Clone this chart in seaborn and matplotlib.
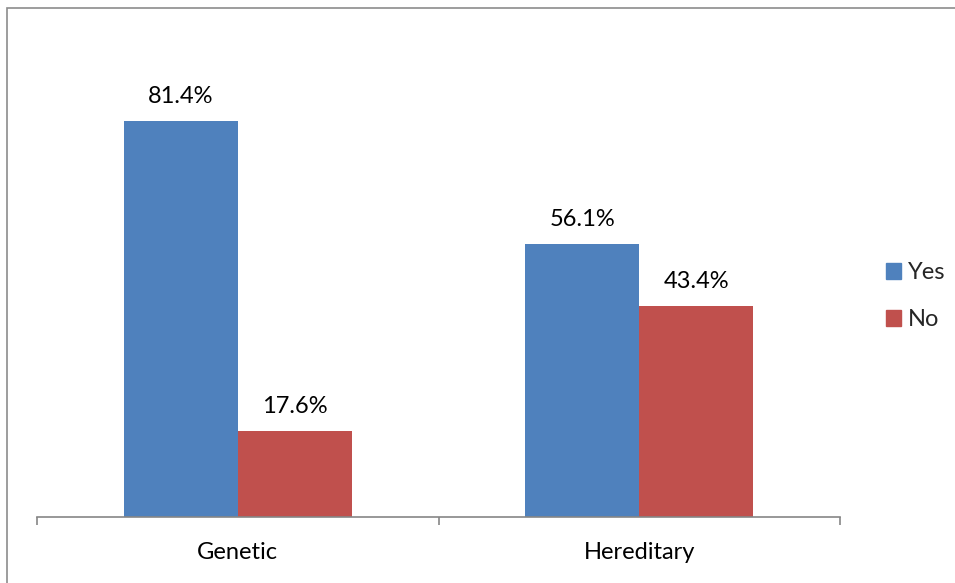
import matplotlib
matplotlib.use("Agg")
import matplotlib.pyplot as plt
import matplotlib.patches as mpatches
import seaborn as sns
import pandas as pd

categories = ["Genetic", "Hereditary"]
series_names = ["Yes", "No"]
yes_values = [81.4, 56.1]
no_values = [17.6, 43.4]

colors = ["#4F81BD", "#C0504D"]

sns.set_theme(style="white")
plt.rcParams["font.family"] = ["Lato", "DejaVu Sans"]

df = pd.DataFrame({
    "category": categories * 2,
    "answer": [series_names[0]] * len(categories) + [series_names[1]] * len(categories),
    "value": yes_values + no_values,
})

fig = plt.figure(figsize=(9.55, 5.83), dpi=100)
ax = fig.add_axes([37 / 955, 66 / 583, 803 / 955, 486.5 / 583])

sns.barplot(data=df, x="category", y="value", hue="answer", order=categories,
            hue_order=series_names, palette=colors, width=0.568, saturation=1,
            edgecolor="none", linewidth=0, ax=ax)

ax.set_ylim(0, 100)
ax.set_xlim(-0.5, len(categories) - 0.5)
for container in ax.containers:
    ax.bar_label(container, labels=[f"{v:.1f}%" for v in container.datavalues],
                 padding=10, fontsize=17, color="black")

ax.set_xlabel("")
ax.set_ylabel("")
ax.set_yticks([])
for s in ["left", "right", "top"]:
    ax.spines[s].set_visible(False)
ax.spines["bottom"].set_color("#868686")
ax.spines["bottom"].set_linewidth(1.2)

ax.set_xticks(range(len(categories)))
ax.set_xticklabels(categories, fontsize=17, color="black")
ax.set_xticks([i - 0.5 for i in range(len(categories) + 1)], minor=True)
ax.tick_params(axis="x", which="major", length=0, pad=18)
ax.tick_params(axis="x", which="minor", length=6, width=1.2, color="#868686",
               direction="out", bottom=True)

handles = [mpatches.Patch(color=c, label=n) for c, n in zip(colors, series_names)]
ax.legend(handles=handles, loc="center left", bbox_to_anchor=(1.045, 0.454),
          frameon=False, fontsize=17, handlelength=0.65, handleheight=0.65,
          handletextpad=0.3, labelspacing=1.1, borderaxespad=0)

fig.patches.append(mpatches.Rectangle((7 / 955, -0.05), 1.1, (583 - 8) / 583 + 0.05,
                                      transform=fig.transFigure, fill=False,
                                      edgecolor="#8c8c8c", linewidth=1.2))

fig.savefig("out.png", dpi=100)
